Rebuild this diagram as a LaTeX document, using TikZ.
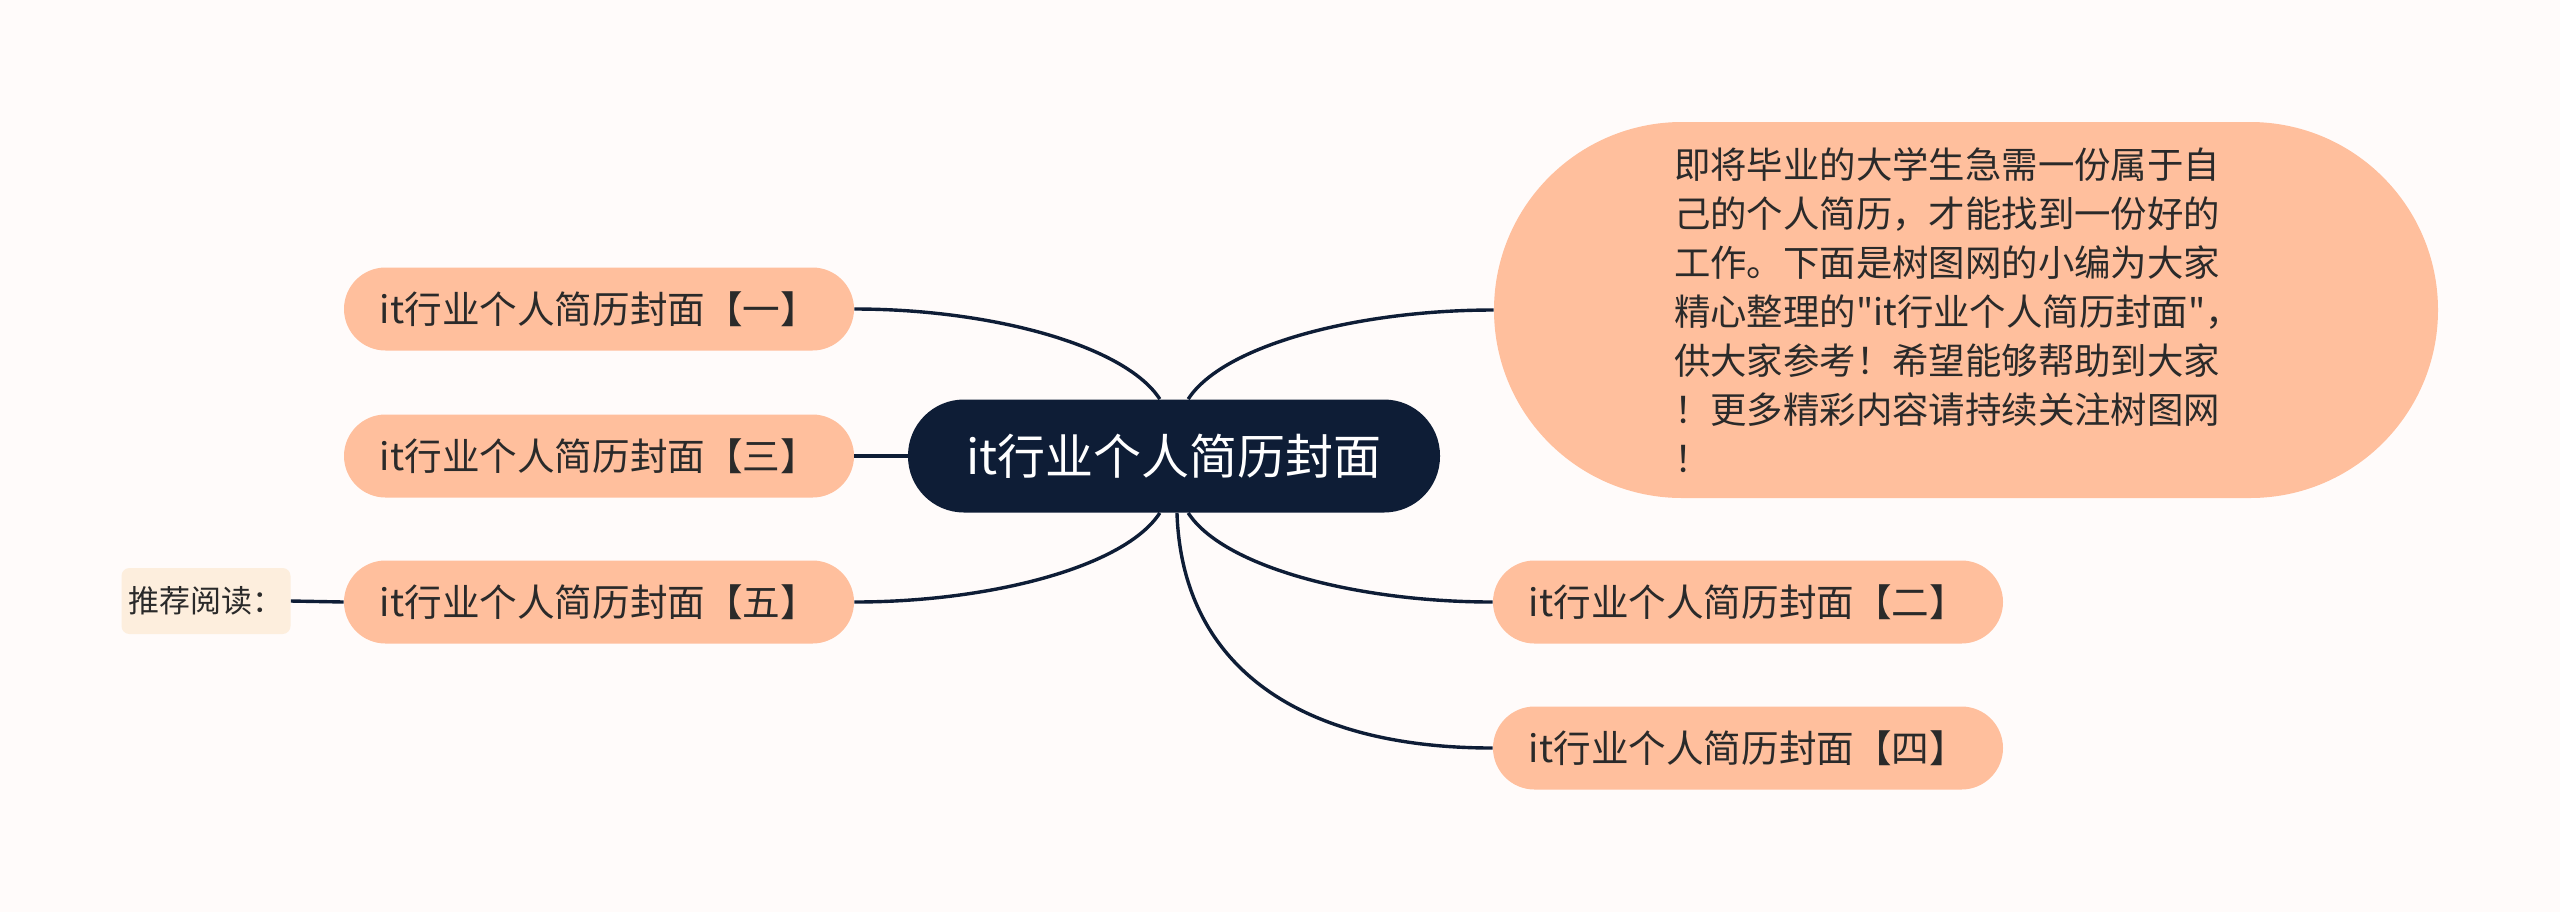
\documentclass[tikz,border=0pt]{standalone}
\usepackage{fontspec}
\newfontfamily\cjk{Noto Sans CJK SC}
\definecolor{bgpaper}{HTML}{FFFBFA}
\definecolor{navy}{HTML}{0E1D36}
\definecolor{peach}{HTML}{FFBF9D}
\definecolor{cream}{HTML}{FDEEDD}
\definecolor{ink}{HTML}{2A2A2A}
\begin{document}
\begin{tikzpicture}[x=0.5pt,y=-0.5pt,
  topic/.style={fill=navy, text=white, rounded corners=28pt, minimum width=266pt, minimum height=56.5pt, inner sep=0pt, font=\cjk\fontsize{24}{28}\selectfont},
  branch/.style={fill=peach, text=ink, rounded corners=20.75pt, minimum width=255pt, minimum height=41.5pt, inner sep=0pt, font=\cjk\fontsize{18.8}{22}\selectfont},
  link/.style={draw=navy, line width=1.7pt}]
\fill[bgpaper] (0,0) rectangle (2560,912);
\node[topic] (c) at (1174,456) {it行业个人简历封面};
\node[branch] (n1) at (599,309) {it行业个人简历封面【一】};
\node[branch] (n3) at (599,456) {it行业个人简历封面【三】};
\node[branch] (n5) at (599,602) {it行业个人简历封面【五】};
\node[branch] (n2) at (1748,602) {it行业个人简历封面【二】};
\node[branch] (n4) at (1748,748) {it行业个人简历封面【四】};
\node[branch, minimum width=472pt, minimum height=188pt, rounded corners=94pt, align=left, text width=292pt, font=\cjk\fontsize{18.2}{24.5}\selectfont] (d) at (1966,310) {即将毕业的大学生急需一份属于自\\己的个人简历，才能找到一份好的\\工作。下面是树图网的小编为大家\\精心整理的"it行业个人简历封面"，\\供大家参考！希望能够帮助到大家\\！更多精彩内容请持续关注树图网\\！};
\node[fill=cream, text=ink, rounded corners=4pt, minimum width=84.5pt, minimum height=33pt, inner sep=0pt, font=\cjk\fontsize{15.5}{18}\selectfont] (r) at (206,601) {推荐阅读：};
\draw[link] (c.104) .. controls +(-35,-54) and +(136,0) .. (n1.east);
\draw[link] (c.west) -- (n3.east);
\draw[link] (c.-104) .. controls +(-35,54) and +(136,0) .. (n5.east);
\draw[link] (c.76) .. controls +(35,-54) and +(-136,0) .. (d.west);
\draw[link] (c.-76) .. controls +(35,54) and +(-136,0) .. (n2.west);
\draw[link] (c.-87) .. controls +(5,153) and +(-194,0) .. (n4.west);
\draw[link] (r.east) -- (n5.west);
\end{tikzpicture}
\end{document}
